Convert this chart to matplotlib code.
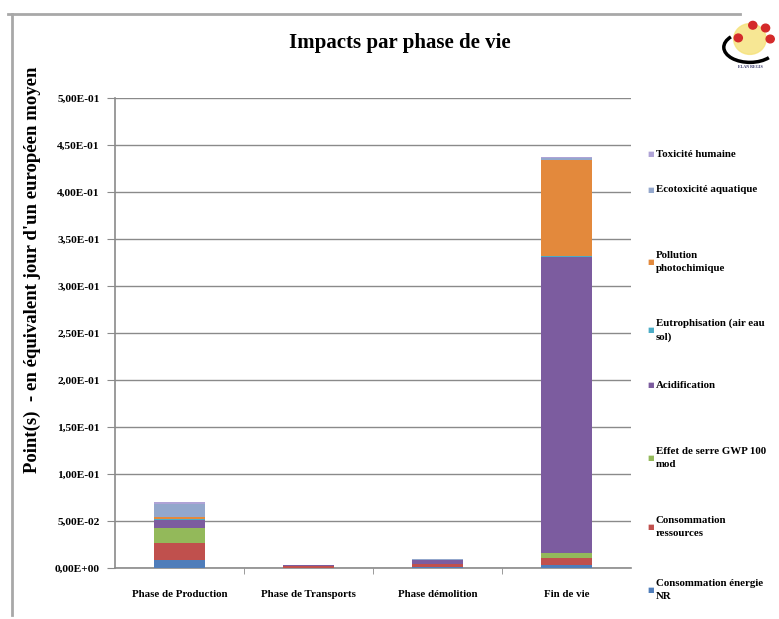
import matplotlib.pyplot as plt
import numpy as np
from matplotlib.lines import Line2D
from matplotlib.patches import Circle, Arc
from matplotlib.ticker import FuncFormatter, MultipleLocator

plt.rcParams['font.family'] = ['Liberation Serif', 'DejaVu Serif']
plt.rcParams['font.weight'] = 'bold'

phases = ["Phase de Production", "Phase de Transports", "Phase démolition", "Fin de vie"]

# stacked from bottom to top
series = [
    "Consommation énergie\nNR",
    "Consommation\nressources",
    "Effet de serre GWP 100\nmod",
    "Acidification",
    "Eutrophisation (air eau\nsol)",
    "Pollution\nphotochimique",
    "Ecotoxicité aquatique",
    "Toxicité humaine",
]
energie_nr = [0.0085, 0.0005, 0.0010, 0.0030]
ressources = [0.0180, 0.0012, 0.0030, 0.0075]
effet_serre = [0.0160, 0.0001, 0.0003, 0.0050]
acidification = [0.0085, 0.0012, 0.0040, 0.3155]
eutrophisation = [0.0010, 0.0001, 0.0002, 0.0010]
photochimique = [0.0020, 0.0002, 0.0005, 0.1020]
ecotoxicite = [0.0140, 0.0001, 0.0002, 0.0020]
toxicite = [0.0020, 0.0001, 0.0001, 0.0010]

values = [energie_nr, ressources, effet_serre, acidification,
          eutrophisation, photochimique, ecotoxicite, toxicite]
colors = ['#4F7DBA', '#C0504D', '#93B95A', '#7C5C9F',
          '#4BACC6', '#E3893C', '#93A7CC', '#AFA3D6']

W, H = 779, 619
fig = plt.figure(figsize=(W / 100, H / 100), dpi=100)
ax = fig.add_axes([115 / W, 1 - 568 / H, 516 / W, 470 / H])

x = np.arange(len(phases))
bottom = np.zeros(len(phases))
for vals, c in zip(values, colors):
    ax.bar(x, vals, 0.4, bottom=bottom, color=c, zorder=3)
    bottom += np.array(vals)

ax.set_xlim(-0.5, 3.5)
ax.set_ylim(0, 0.5)
ax.yaxis.set_major_locator(MultipleLocator(0.05))


def sci_fr(v, pos):
    return f"{v:.2E}".replace('.', ',')


ax.yaxis.set_major_formatter(FuncFormatter(sci_fr))
ax.grid(axis='y', color='#8A8A8A', linewidth=1.0, zorder=0)
ax.set_xticks(x)
ax.set_xticklabels(phases, fontsize=7.8)
ax.set_xticks([0.5, 1.5, 2.5], minor=True)
ax.tick_params(axis='x', which='major', length=0, pad=16)
ax.tick_params(axis='x', which='minor', length=4, color='#8A8A8A')
ax.tick_params(axis='y', length=6, color='#8A8A8A', labelsize=8.2, pad=5)
for side in ['top', 'right']:
    ax.spines[side].set_visible(False)
for side in ['left', 'bottom']:
    ax.spines[side].set_color('#8A8A8A')
    ax.spines[side].set_linewidth(1.2)

fig.text(32 / W, 1 - 270 / H,
         "Point(s)  - en équivalent jour d'un européen moyen",
         rotation=90, ha='center', va='center', fontsize=13.5, fontweight='bold')

fig.text(400 / W, 1 - 43 / H, "Impacts par phase de vie", ha='center', va='center',
         fontsize=15)

# legend on the right, last series at the top
legend_y = [154, 190, 262, 330, 385, 458, 527, 590]
for label, c, yy in zip(series[::-1], colors[::-1], legend_y):
    fig.text(647 / W, 1 - yy / H, "■", color=c, fontsize=5, va='center',
             family=['DejaVu Sans'])
    fig.text(656 / W, 1 - yy / H, label, fontsize=7.8, va='center',
             linespacing=1.6)

# chart frame
fig.add_artist(Line2D([8 / W, 740 / W], [1 - 14 / H, 1 - 14 / H],
                      color='#A8A8A8', linewidth=2, transform=fig.transFigure))
fig.add_artist(Line2D([12 / W, 12 / W], [1 - 14 / H, 1 - 615 / H],
                      color='#A8A8A8', linewidth=2, transform=fig.transFigure))

# small logo
lax = fig.add_axes([718 / W, 1 - 72 / H, 58 / W, 55 / H])
lax.set_xlim(0, 1)
lax.set_ylim(0, 1)
lax.axis('off')
lax.add_patch(Circle((0.55, 0.6), 0.28, color='#F6E27A', alpha=0.8))
lax.add_patch(Arc((0.55, 0.45), 0.9, 0.55, theta1=150, theta2=330,
                  color='black', linewidth=2.5))
for cx, cy in [(0.35, 0.62), (0.6, 0.85), (0.82, 0.8), (0.9, 0.6)]:
    lax.add_patch(Circle((cx, cy), 0.07, color='#D42A2A'))
lax.text(0.55, 0.08, "ELAN REGIS", fontsize=3, ha='center', color='#333366')

fig.savefig("out.png", dpi=100)
